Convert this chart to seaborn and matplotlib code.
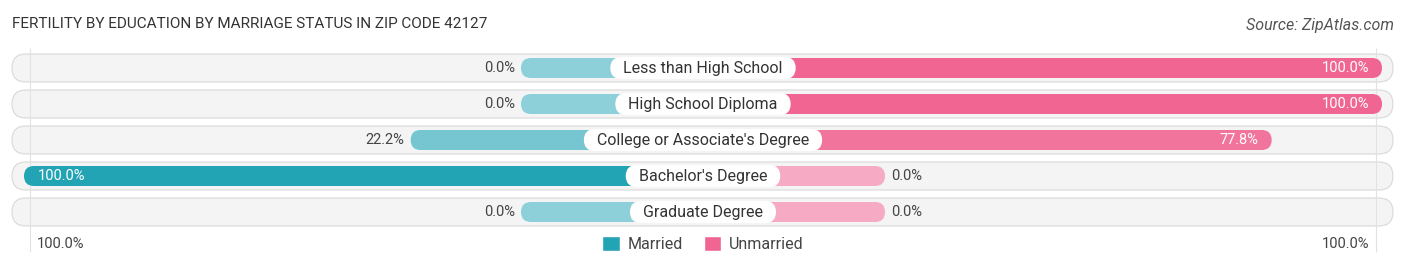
import numpy as np
import pandas as pd
import matplotlib
matplotlib.use('Agg')
import matplotlib.pyplot as plt
import seaborn as sns
from matplotlib.patches import FancyBboxPatch, Patch
from matplotlib.colors import to_rgb

# data
levels = ["Less than High School", "High School Diploma", "College or Associate's Degree",
          "Bachelor's Degree", "Graduate Degree"]
married = [0.0, 0.0, 22.2, 100.0, 0.0]
unmarried = [100.0, 100.0, 77.8, 0.0, 0.0]
statuses = ['Married', 'Unmarried']

# layout (pixels)
W, H = 1406, 268
CX = 703          # centre line
PX = 4.97         # pixels per percent
STUB = 182 / PX   # part of each bar hidden under the label
ROW0, STEP = 68, 36

married_full, married_light = '#23a4b5', '#8ed0d9'
unmar_full, unmar_light = '#f06592', '#f6aac3'


def blend(light, full, t):
    a, b = np.array(to_rgb(light)), np.array(to_rgb(full))
    return tuple(a + (b - a) * t)


sns.set_theme(style='white')
plt.rcParams['font.family'] = ['Roboto', 'DejaVu Sans']

fig = plt.figure(figsize=(W / 100, H / 100), dpi=100)
ax = fig.add_axes([0, 0, 1, 1])

df = pd.DataFrame({'level': levels * 2,
                   'status': ['Married'] * len(levels) + ['Unmarried'] * len(levels),
                   'value': married + unmarried})
df['shown'] = np.where(df['status'] == 'Married', -(df['value'] + STUB), df['value'] + STUB)

sns.barplot(data=df, x='shown', y='level', hue='status', order=levels, hue_order=statuses,
            orient='h', dodge=False, width=20 / STEP, errorbar=None, legend=False,
            palette=[married_full, unmar_full], ax=ax)

ax.set_xlim(-CX / PX, (W - CX) / PX)
ax.set_ylim((H - ROW0) / STEP, -ROW0 / STEP)
ax.axis('off')

asp = PX / STEP

# row backgrounds
for i in range(len(levels)):
    x0 = (12 - CX) / PX
    x1 = (1393 - CX) / PX
    h = 28 / STEP
    bg = FancyBboxPatch((x0, i - h / 2), x1 - x0, h,
                        boxstyle=f"round,pad=0,rounding_size={14 / PX}",
                        mutation_aspect=asp, fc='#f4f4f4', ec='#d9d9d9', lw=0.8, zorder=0)
    ax.add_patch(bg)

# faint guide lines
ax.vlines([(30 - CX) / PX, (1376 - CX) / PX], (48 - ROW0) / STEP, (252 - ROW0) / STEP,
          colors='#e2e2e2', lw=0.8, zorder=0.5)

# rounded bars replacing seaborn rectangles
for p in list(ax.patches):
    if isinstance(p, FancyBboxPatch):
        continue
    x0, w = p.get_x(), p.get_width()
    y0, h = p.get_y(), p.get_height()
    row = int(round(y0 + h / 2))
    left, right = min(x0, x0 + w), max(x0, x0 + w)
    is_m = (x0 + w) < 0 or x0 < 0
    val = married[row] if is_m else unmarried[row]
    if is_m:
        col = blend(married_light, married_full, val / 100)
    else:
        col = blend(unmar_light, unmar_full, val / 100)
    p.remove()
    ax.add_patch(FancyBboxPatch((left, y0), right - left, h,
                                boxstyle=f"round,pad=0,rounding_size={10 / PX}",
                                mutation_aspect=asp, fc=col, ec='none', zorder=2))
    txt = f'{val:.1f}%'
    if val > 60:
        if is_m:
            ax.text(left + 14 / PX, row, txt, ha='left', va='center', color='white',
                    fontsize=10.5, zorder=5)
        else:
            ax.text(right - 13 / PX, row, txt, ha='right', va='center', color='white',
                    fontsize=10.5, zorder=5)
    else:
        if is_m:
            ax.text(left - 6 / PX, row, txt, ha='right', va='center', color='#444444',
                    fontsize=10.5, zorder=5)
        else:
            ax.text(right + 6 / PX, row, txt, ha='left', va='center', color='#444444',
                    fontsize=10.5, zorder=5)

# category labels on white pills
renderer = fig.canvas.get_renderer()
for i, lab in enumerate(levels):
    t = ax.text(0, i, lab, ha='center', va='center', fontsize=11.5, color='#333333', zorder=6)
    bb = t.get_window_extent(renderer)
    wd = (bb.width + 26) / PX
    hh = 22 / STEP
    ax.add_patch(FancyBboxPatch((-wd / 2, i - hh / 2), wd, hh,
                                boxstyle=f"round,pad=0,rounding_size={11 / PX}",
                                mutation_aspect=asp, fc='white', ec='none', zorder=3))

# title and source
fig.text(12 / W, 1 - 28 / H, 'FERTILITY BY EDUCATION BY MARRIAGE STATUS IN ZIP CODE 42127',
         ha='left', va='baseline', fontsize=11, color='#333333')
fig.text(1394 / W, 1 - 30 / H, 'Source: ZipAtlas.com', ha='right', va='baseline',
         fontsize=11.5, color='#555555', style='italic')

# axis end labels
fig.text(37 / W, 1 - 244 / H, '100.0%', ha='left', va='center', fontsize=10.5, color='#444444')
fig.text(1369 / W, 1 - 244 / H, '100.0%', ha='right', va='center', fontsize=10.5, color='#444444')

# legend
handles = [Patch(fc=married_full, label='Married'), Patch(fc=unmar_full, label='Unmarried')]
leg = ax.legend(handles=handles, loc='center', bbox_to_anchor=(CX / W, 1 - 244 / H),
                bbox_transform=fig.transFigure, ncol=2, frameon=False, fontsize=11.5,
                handlelength=1.1, handleheight=1.1, columnspacing=1.3, handletextpad=0.5)
for t in leg.get_texts():
    t.set_color('#444444')

fig.savefig('out.png', dpi=100)
